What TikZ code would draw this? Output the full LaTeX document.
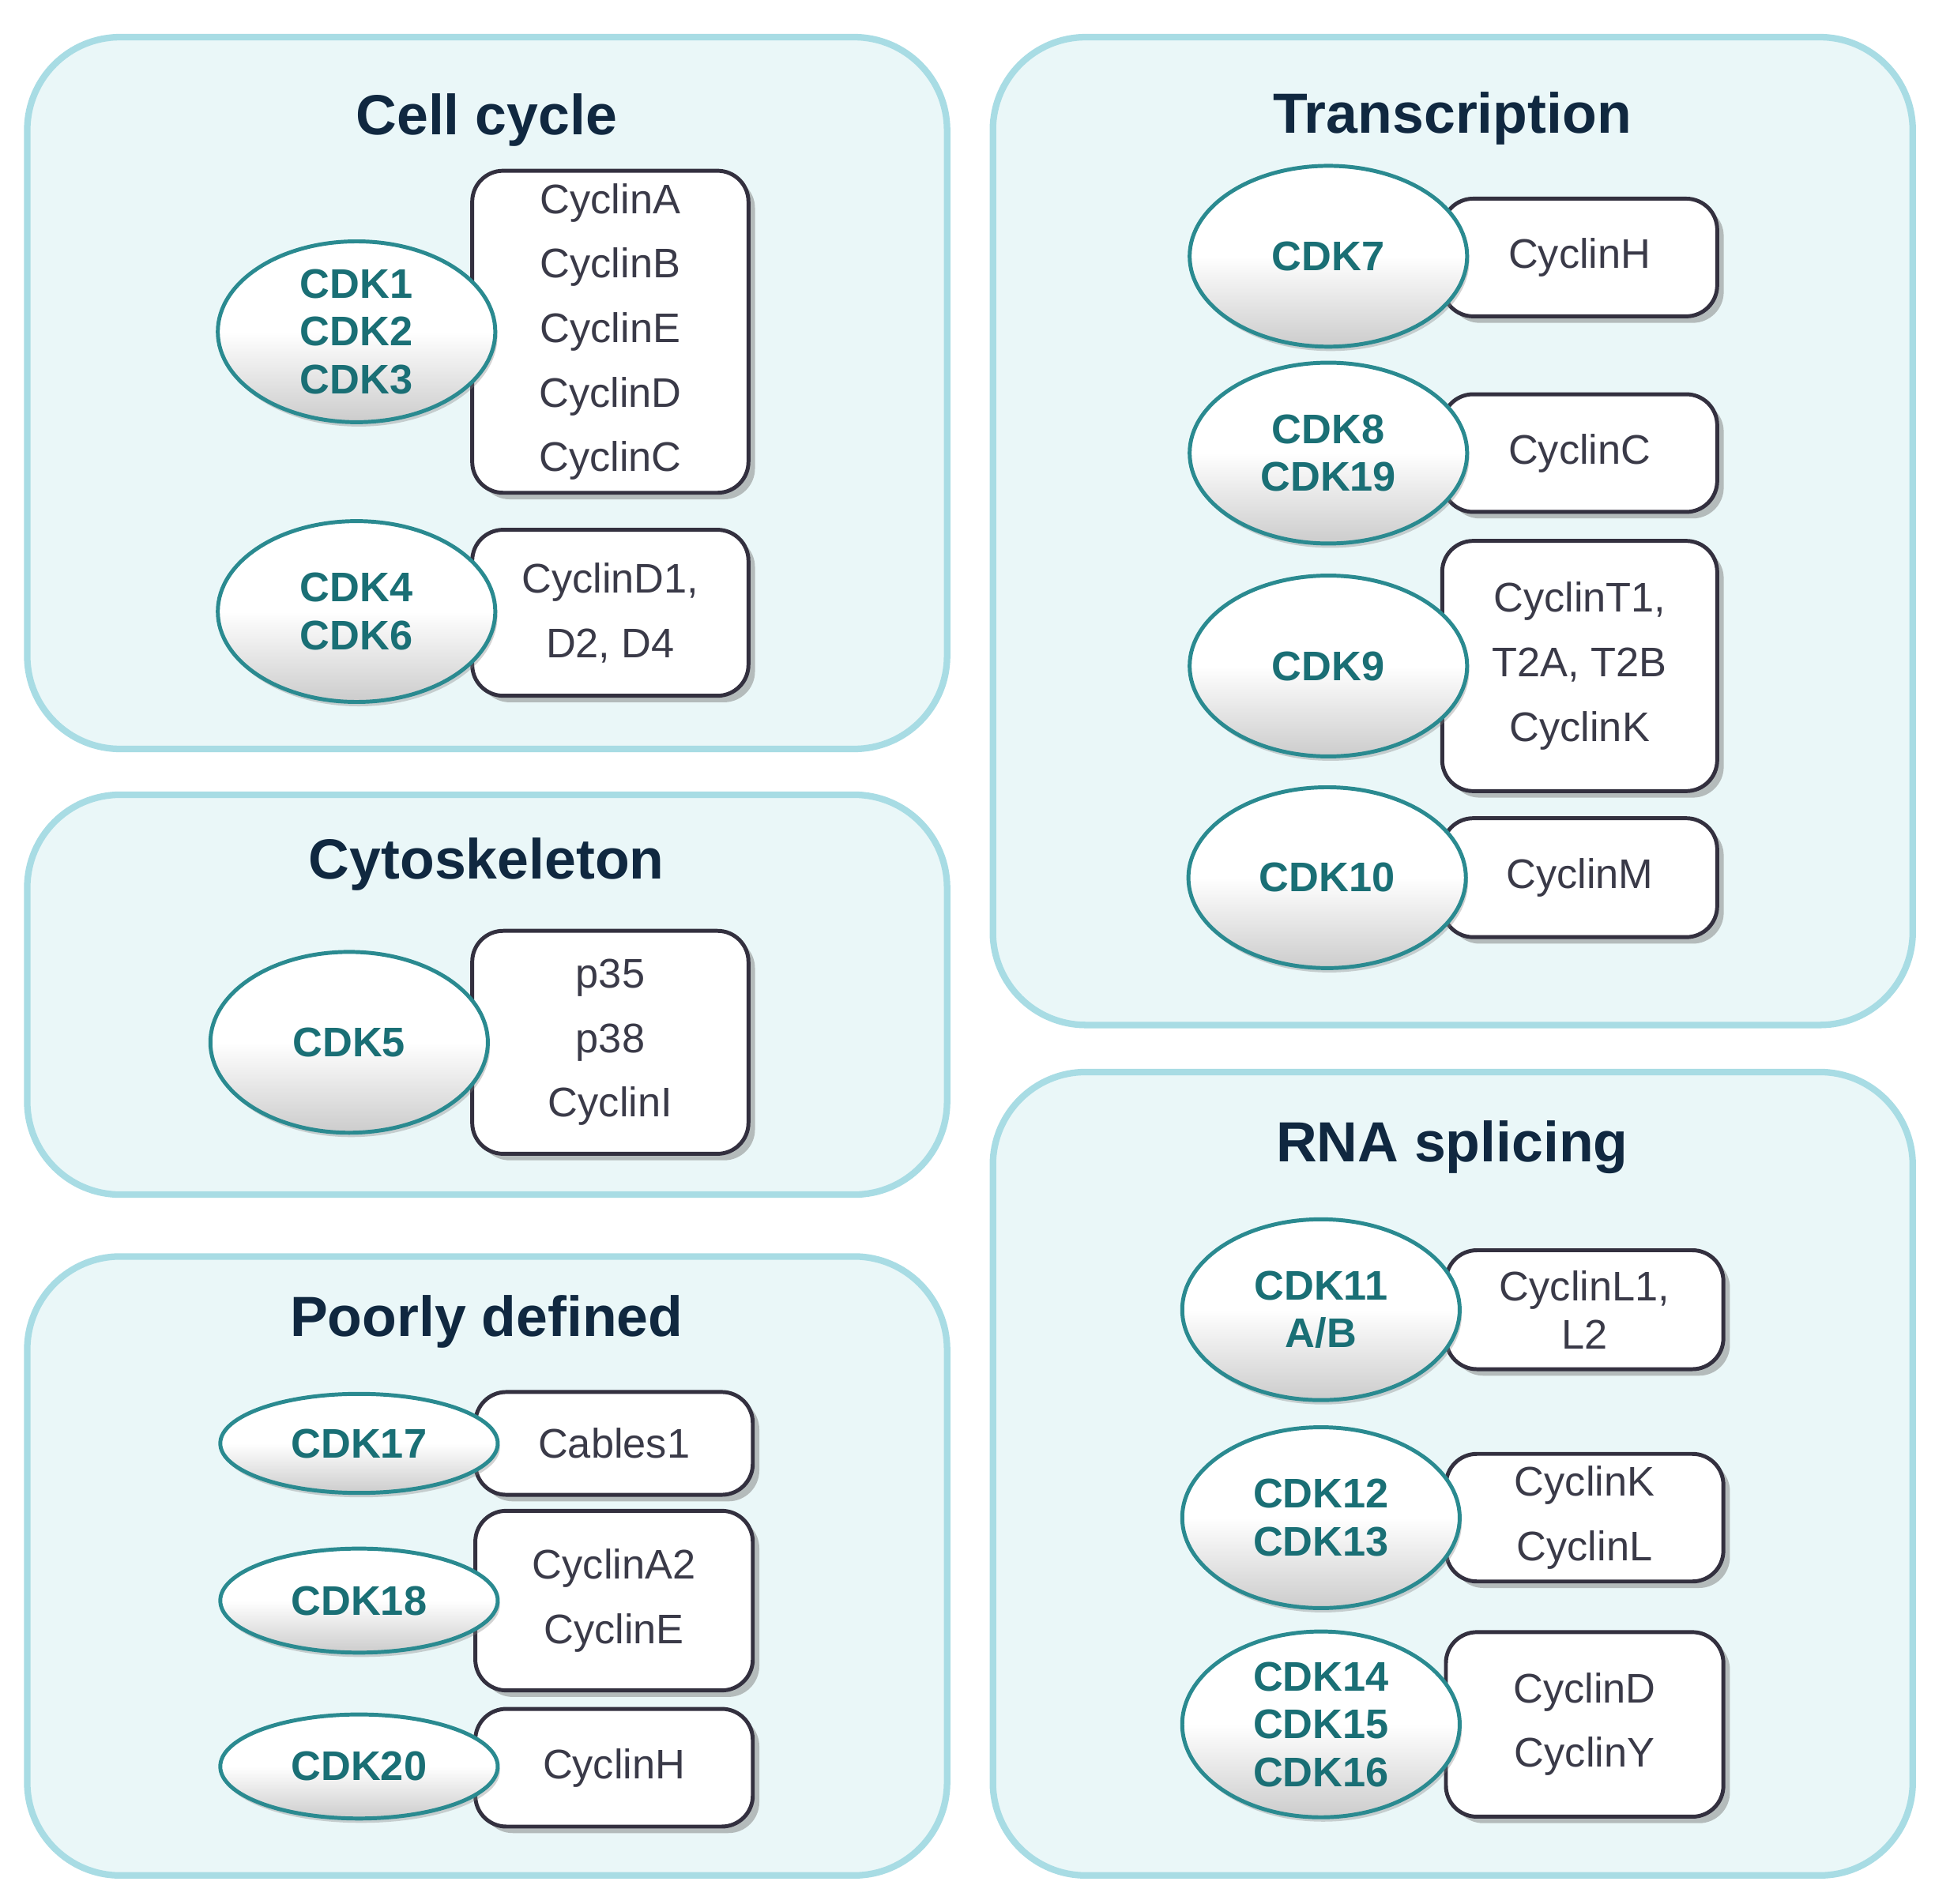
\documentclass[tikz,border=0pt]{standalone}
\usepackage{fontspec}
\setmainfont{Liberation Sans}
\usetikzlibrary{shapes.geometric,shadows}
\definecolor{panelfill}{HTML}{EAF7F8}
\definecolor{panelline}{HTML}{A8DCE4}
\definecolor{teal}{HTML}{1A6F75}
\definecolor{elline}{HTML}{2A8A90}
\definecolor{navy}{HTML}{102840}
\definecolor{boxline}{HTML}{33303F}
\definecolor{txt}{HTML}{3A3A48}
\begin{document}
\begin{tikzpicture}[x=0.01cm,y=-0.01cm,
 panel/.style={draw=panelline,fill=panelfill,line width=1.5pt,rounded corners=0.75cm},
 ttl/.style={font=\fontsize{13}{16}\selectfont\bfseries,text=navy},
 cdk/.style={ellipse,draw=elline,line width=0.9pt,top color=white,bottom color=gray!40,middle color=white,
   minimum width=2.24cm,minimum height=1.46cm,inner sep=0pt,align=center,
   font=\fontsize{9.5}{11}\selectfont\bfseries,text=teal,drop shadow={opacity=0.35,shadow xshift=0.5pt,shadow yshift=-1pt}},
 cyc/.style={draw=boxline,line width=0.9pt,fill=white,rounded corners=0.25cm,inner sep=0pt,align=center,
   font=\fontsize{9.5}{14.8}\selectfont,text=txt,drop shadow={opacity=0.5,shadow xshift=1.5pt,shadow yshift=-1.5pt}}]
\useasboundingbox (0,0) rectangle (1563,1538);
\fill[white] (0,0) rectangle (1563,1538);
% panels
\draw[panel] (22,30) rectangle (765,605);
\draw[panel] (22,642) rectangle (765,965);
\draw[panel] (22,1015) rectangle (765,1515);
\draw[panel] (802,30) rectangle (1545,828);
\draw[panel] (802,866) rectangle (1545,1515);
\node[ttl] (t1) at (393,97) {Cell cycle};
\node[ttl] (t2) at (393,698) {Cytoskeleton};
\node[ttl] (t3) at (393,1068) {Poorly defined};
\node[ttl] (t4) at (1173,96) {Transcription};
\node[ttl] (t5) at (1173,927) {RNA splicing};
% Cell cycle
\node[cyc,minimum width=2.23cm,minimum height=2.60cm] (b1) at (493,268) {CyclinA\\CyclinB\\CyclinE\\CyclinD\\CyclinC};
\node[cdk] (e1) at (288,268) {CDK1\\CDK2\\CDK3};
\node[cyc,minimum width=2.23cm,minimum height=1.34cm] (b2) at (493,495) {CyclinD1,\\D2, D4};
\node[cdk] (e2) at (288,494) {CDK4\\CDK6};
% Cytoskeleton
\node[cyc,minimum width=2.23cm,minimum height=1.80cm] (b3) at (493,842) {p35\\p38\\CyclinI};
\node[cdk] (e3) at (282,842) {CDK5};
% Poorly defined
\node[cyc,minimum width=2.24cm,minimum height=0.83cm] (b4) at (496,1166) {Cables1};
\node[cdk,minimum height=0.80cm] (e4) at (290,1166) {CDK17};
\node[cyc,minimum width=2.24cm,minimum height=1.45cm] (b5) at (496,1293) {CyclinA2\\CyclinE};
\node[cdk,minimum height=0.84cm] (e5) at (290,1293) {CDK18};
\node[cyc,minimum width=2.24cm,minimum height=0.95cm] (b6) at (496,1428) {CyclinH};
\node[cdk,minimum height=0.84cm] (e6) at (290,1427) {CDK20};
% Transcription
\node[cyc,minimum width=2.22cm,minimum height=0.95cm] (b7) at (1276,208) {CyclinH};
\node[cdk] (e7) at (1073,207) {CDK7};
\node[cyc,minimum width=2.22cm,minimum height=0.95cm] (b8) at (1276,366) {CyclinC};
\node[cdk] (e8) at (1073,366) {CDK8\\CDK19};
\node[cyc,minimum width=2.22cm,minimum height=2.02cm] (b9) at (1276,538) {CyclinT1,\\T2A, T2B\\CyclinK};
\node[cdk] (e9) at (1073,538) {CDK9};
\node[cyc,minimum width=2.22cm,minimum height=0.96cm] (b10) at (1276,709) {CyclinM};
\node[cdk] (e10) at (1072,709) {CDK10};
% RNA splicing
\node[cyc,minimum width=2.24cm,minimum height=0.96cm,font=\fontsize{9.5}{11}\selectfont] (b11) at (1280,1058) {CyclinL1,\\L2};
\node[cdk] (e11) at (1067,1058) {CDK11\\A/B};
\node[cyc,minimum width=2.24cm,minimum height=1.03cm] (b12) at (1280,1226) {CyclinK\\CyclinL};
\node[cdk] (e12) at (1067,1226) {CDK12\\CDK13};
\node[cyc,minimum width=2.24cm,minimum height=1.49cm] (b13) at (1280,1393) {CyclinD\\CyclinY};
\node[cdk,minimum height=1.50cm] (e13) at (1067,1393) {CDK14\\CDK15\\CDK16};
\end{tikzpicture}
\end{document}
